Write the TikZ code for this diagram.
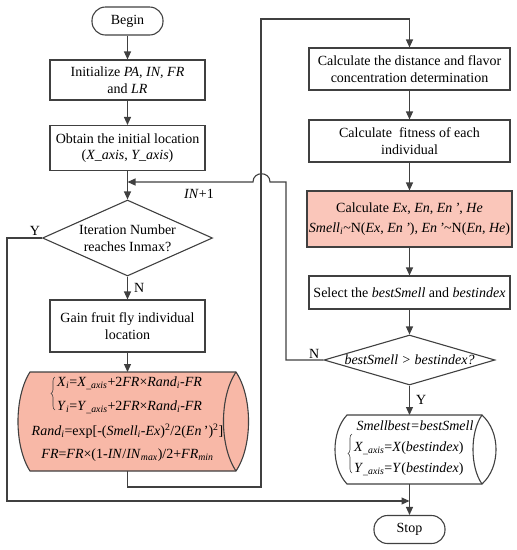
\documentclass[tikz,border=0pt]{standalone}
\usepackage{fontspec}
\setmainfont{Liberation Serif}
\usetikzlibrary{shapes.geometric,arrows.meta,decorations.pathreplacing}
\definecolor{ln}{RGB}{64,64,64}
\definecolor{pinkbox}{RGB}{250,198,186}
\definecolor{pinkcyl}{RGB}{248,184,167}
\begin{document}
\begin{tikzpicture}[x=1pt,y=-1pt,
  font=\fontsize{14}{16.5}\selectfont,
  box/.style={draw=ln, line width=1.1pt, rectangle, align=center, inner sep=2pt},
  term/.style={draw=ln, line width=1.1pt, rounded corners=13.5pt, minimum width=71pt, minimum height=28pt},
  dia/.style={draw=ln, line width=1.1pt, diamond, inner sep=0pt},
  arr/.style={draw=ln, line width=1.1pt, -{Triangle[length=8pt,width=7pt]}},
  con/.style={draw=ln, line width=1.1pt},
  brc/.style={draw=ln, line width=0.6pt, decorate, decoration={brace, amplitude=4pt}},
  lbl/.style={inner sep=1pt}]
\useasboundingbox (0,0) rectangle (517,550);
% left column
\node[term] (begin) at (127.5,21) {Begin};
\node[box, minimum width=155pt, minimum height=40pt] (init) at (127.5,80) {Initialize \textit{PA, IN, FR}\\and \textit{LR}};
\node[box, minimum width=155pt, minimum height=45pt] (obtain) at (127.5,148) {Obtain the initial location\\(\textit{X\_axis}, \textit{Y\_axis})};
\node[dia, minimum width=170pt, minimum height=76pt] (d1) at (127.5,238) {};
\node[align=center] (d1t) at (d1.center) {Iteration Number\\reaches Inmax?};
\node[box, minimum width=155pt, minimum height=52pt] (gain) at (127.5,326) {Gain fruit fly individual\\location};
% cylinder 1
\path[draw=ln, line width=1.1pt, fill=pinkcyl] (30,372) -- (236,372) .. controls (252.7,397) and (252.7,446) .. (236,471) -- (30,471) .. controls (14,446) and (14,397) .. (30,372) -- cycle;
\draw[con] (236,372) .. controls (219.3,397) and (219.3,446) .. (236,471);
\coordinate (cyl1n) at (127.5,372);
\coordinate (cyl1s) at (127.5,471);
\node[anchor=west, inner sep=0pt] (f1) at (57,383) {\textit{X}\textsubscript{\textit{i}}=\textit{X}\textsubscript{\textit{\_axis}}+2\textit{FR}×\textit{Rand}\textsubscript{\textit{i}}-\textit{FR}};
\node[anchor=west, inner sep=0pt] (f2) at (57,407) {\textit{Y}\textsubscript{\textit{i}}=\textit{Y}\textsubscript{\textit{\_axis}}+2\textit{FR}×\textit{Rand}\textsubscript{\textit{i}}-\textit{FR}};
\draw[brc] (55,410) -- (55,377);
\node (f3) at (127.5,431) {\textit{Rand}\textsubscript{\textit{i}}=exp[-(\textit{Smell}\textsubscript{\textit{i}}-\textit{Ex})\textsuperscript{2}/2(\textit{En}\,’)\textsuperscript{2}]};
\node (f4) at (127.5,455) {\textit{FR}=\textit{FR}×(1-\textit{IN}/\textit{IN}\textsubscript{\textit{max}})/2+\textit{FR}\textsubscript{\textit{min}}};
% right column
\node[box, minimum width=201pt, minimum height=42pt] (box1) at (409.5,69) {Calculate the distance and flavor\\concentration determination};
\node[box, minimum width=201pt, minimum height=42pt] (box2) at (409.5,141) {Calculate\ \ fitness of each\\individual};
\node[box, fill=pinkbox, minimum width=201pt, minimum height=56pt, font=\fontsize{14}{20}\selectfont] (calc) at (409.5,219) {Calculate \textit{Ex}, \textit{En}, \textit{En\,’}, \textit{He}\\\textit{Smell}\textsubscript{\textit{i}}\textasciitilde N(\textit{Ex}, \textit{En\,’}), \textit{En\,’}\textasciitilde N(\textit{En}, \textit{He})};
\node[box, minimum width=201pt, minimum height=33pt] (sel) at (409.5,292.5) {Select the \textit{bestSmell} and \textit{bestindex}};
\node[dia, minimum width=171pt, minimum height=50pt] (d2) at (409.5,360) {};
\node (d2t) at (d2.center) {\textit{bestSmell > bestindex?}};
% cylinder 2
\path[draw=ln, line width=1.1pt, fill=white] (347,415) -- (482,415) .. controls (500.7,432) and (500.7,467) .. (482,484) -- (347,484) .. controls (331,467) and (331,432) .. (347,415) -- cycle;
\draw[con] (482,415) .. controls (470,432) and (470,467) .. (482,484);
\coordinate (cyl2n) at (409.5,415);
\coordinate (cyl2s) at (409.5,484);
\node (g1) at (415,426) {\textit{Smellbest=bestSmell}};
\node[anchor=west, inner sep=0pt] (g2) at (354,448) {\textit{X}\textsubscript{\textit{\_axis}}=\textit{X}(\textit{bestindex})};
\node[anchor=west, inner sep=0pt] (g3) at (354,469) {\textit{Y}\textsubscript{\textit{\_axis}}=\textit{Y}(\textit{bestindex})};
\draw[brc] (352,473) -- (352,434);
\node[term] (stop) at (409.5,529.5) {Stop};
% connectors
\draw[arr] (begin) -- (init);
\draw[arr] (init) -- (obtain);
\draw[arr] (obtain) -- (d1);
\draw[arr] (d1) -- node[right, lbl, xshift=5pt] (nlab1) {N} (gain);
\draw[arr] (gain) -- (cyl1n);
\coordinate (lp1) at (261,487);
\coordinate (lp2) at (261,19);
\draw[arr] (cyl1s) |- (lp1) -- (lp2) -| (box1.north);
\draw[arr] (box1) -- (box2);
\draw[arr] (box2) -- (calc);
\draw[arr] (calc) -- (sel);
\draw[arr] (sel) -- (d2);
\draw[arr] (d2) -- node[right, lbl, xshift=5pt] (ylab2) {Y} (cyl2n);
\draw[arr] (cyl2s) -- (stop);
\coordinate (yc) at (7,501);
\coordinate (ym) at (409.5,501);
\draw[arr] (d1.west) -| node[pos=0.1, above, lbl, yshift=1pt] (ylab1) {Y} (yc) -- (ym);
\coordinate (nc1) at (286,360);
\coordinate (nc2) at (286,182);
\coordinate (jr) at (270,182);
\coordinate (jl) at (253,182);
\coordinate (im) at (127.5,182);
\draw[arr] (d2.west) -- node[pos=0.25, above, lbl] (nlab2) {N} (nc1) -- (nc2) -- (jr) .. controls (270,171) and (253,171) .. (jl) -- (im);
\node (inp1) at (199,194) {\textit{IN}+1};
\end{tikzpicture}
\end{document}
